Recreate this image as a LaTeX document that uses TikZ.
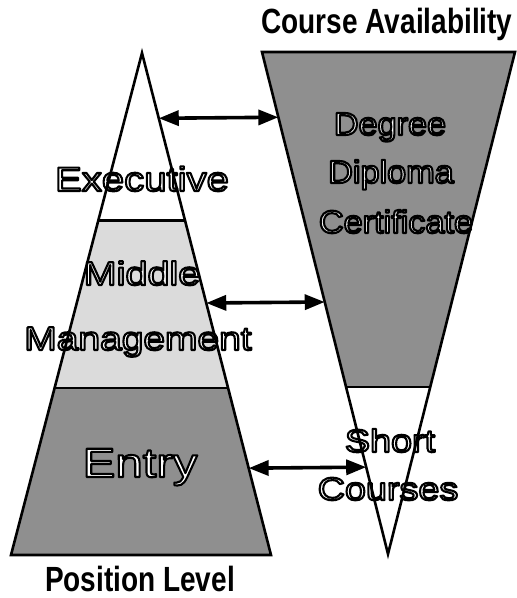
\documentclass[tikz,border=0pt]{standalone}
\usepackage{fontspec}
\setmainfont{Liberation Sans}
\newfontfamily\labfont{Liberation Sans}[FakeStretch=1.18]
\newfontfamily\degfont{Liberation Sans}[FakeStretch=1.07]
\newfontfamily\entfont{Liberation Sans}[FakeStretch=1.2]
\newfontfamily\titlefont{Liberation Sans}[FakeStretch=0.8]
\newcommand{\outl}[1]{\special{pdf:literal direct 0 G 2.1 w 1 j 2 Tr}#1\special{pdf:literal direct 0 Tr}}
\usetikzlibrary{calc,arrows.meta}
\definecolor{darkfill}{gray}{0.56}
\definecolor{lightfill}{gray}{0.86}
\tikzset{
  edge/.style={line width=2.6pt, line join=miter},
  link/.style={line width=3.6pt, {Triangle[length=20pt,width=15pt]}-{Triangle[length=20pt,width=15pt]}},
  olabel/.style={text=white, anchor=base, inner sep=0pt},
  title/.style={anchor=base, inner sep=0pt, font=\titlefont\bfseries\fontsize{35}{40}\selectfont}
}
\begin{document}
\begin{tikzpicture}[x=1pt,y=-1pt]
\useasboundingbox (0,0) rectangle (517,598);
% left pyramid
\coordinate (A) at (142,53);
\coordinate (BL) at (11,555);
\coordinate (BR) at (271,555);
\coordinate (m1L) at ($(A)!0.334!(BL)$);
\coordinate (m1R) at ($(A)!0.334!(BR)$);
\coordinate (m2L) at ($(A)!0.667!(BL)$);
\coordinate (m2R) at ($(A)!0.667!(BR)$);
% right inverted pyramid
\coordinate (TL) at (262,52);
\coordinate (TR) at (515,52);
\coordinate (B) at (388,554);
\coordinate (n1L) at ($(TL)!0.667!(B)$);
\coordinate (n1R) at ($(TR)!0.667!(B)$);
% fills
\fill[lightfill] (m1L) -- (m1R) -- (m2R) -- (m2L) -- cycle;
\fill[darkfill] (m2L) -- (m2R) -- (BR) -- (BL) -- cycle;
\fill[darkfill] (TL) -- (TR) -- (n1R) -- (n1L) -- cycle;
% labels
\node[olabel, font=\labfont\fontsize{34}{36}\selectfont] (exec) at (142,191) {\outl{Executive}};
\node[olabel, font=\entfont\fontsize{33}{36}\selectfont] (mid) at (142,285) {\outl{Middle}};
\node[olabel, font=\labfont\fontsize{33}{36}\selectfont] (mgmt) at (138,350) {\outl{Management}};
\node[olabel, font=\entfont\fontsize{41}{44}\selectfont] (entry) at (140,477) {\outl{Entry}};
\node[olabel, font=\degfont\fontsize{32}{36}\selectfont] (deg) at (390,135) {\outl{Degree}};
\node[olabel, font=\degfont\fontsize{32}{36}\selectfont] (dip) at (391,183) {\outl{Diploma}};
\node[olabel, font=\degfont\fontsize{32}{36}\selectfont] (cert) at (396,233) {\outl{Certificate}};
\node[olabel, font=\labfont\fontsize{32}{36}\selectfont] (short) at (390,452) {\outl{Short}};
\node[olabel, font=\labfont\fontsize{32}{36}\selectfont] (courses) at (388,500) {\outl{Courses}};
% outlines
\draw[edge] (A) -- (BR) -- (BL) -- cycle;
\draw[edge] (m1L) -- (m1R);
\draw[edge] (m2L) -- (m2R);
\draw[edge] (TL) -- (TR) -- (B) -- cycle;
\draw[edge] (n1L) -- (n1R);
% connectors
\coordinate (a1s) at ($(A)!0.13!(BR)$);
\coordinate (a1e) at ($(TL)!0.13!(B)$);
\coordinate (a2s) at ($(A)!0.498!(BR)$);
\coordinate (a2e) at ($(TL)!0.498!(B)$);
\coordinate (a3s) at ($(A)!0.827!(BR)$);
\coordinate (a3e) at ($(TL)!0.827!(B)$);
\draw[link] (a1s) -- (a1e);
\draw[link] (a2s) -- (a2e);
\draw[link] (a3s) -- (a3e);
% titles
\node[title] (ca) at (387,33) {Course Availability};
\node[title] (pl) at (140,591) {Position Level};
\end{tikzpicture}
\end{document}
